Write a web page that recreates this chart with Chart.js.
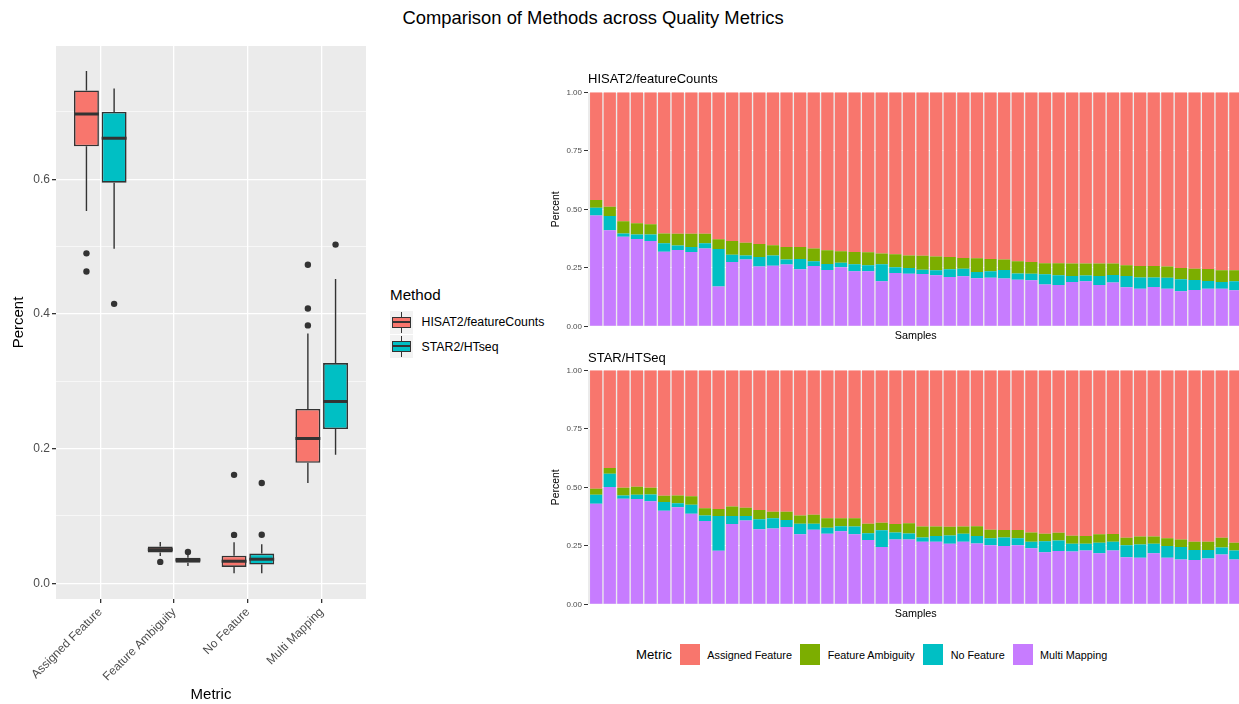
<!DOCTYPE html>
<html>
<head>
<meta charset="utf-8">
<script src="https://cdn.jsdelivr.net/npm/chart.js@4.4.1/dist/chart.umd.min.js"></script>
<style>
  body { margin: 0; width: 1239px; height: 704px; overflow: hidden; background: #fff; position: relative;
         font-family: "Liberation Sans", Arial, Helvetica, sans-serif; }
  canvas, .t { position: absolute; }
  .t { white-space: nowrap; color: #000; }
  .key { position: absolute; width: 23px; height: 23px; background: #F2F2F2; }
  .key .wh { position: absolute; left: 11px; top: 1px; width: 1px; height: 21px; background: #333; }
  .key .bx { position: absolute; left: 2px; top: 6px; width: 17px; height: 9px; border: 1px solid #333; }
  .key .md { position: absolute; left: 2px; top: 10px; width: 19px; height: 2px; background: #333; }
  .sw { position: absolute; width: 20px; height: 21px; top: 644px; }
</style>
</head>
<body>
<div class="t" style="left:0;width:1186px;text-align:center;top:7px;font-size:18.4px;line-height:22px">Comparison of Methods across Quality Metrics</div>

<canvas id="box" width="380" height="704" style="left:0;top:0"></canvas>

<div class="t" style="left:390px;top:285px;font-size:15.2px;line-height:20px">Method</div>
<div class="key" style="left:390px;top:310.5px"><div class="wh"></div><div class="bx" style="background:#F8766D"></div><div class="md"></div></div>
<div class="t" style="left:421.5px;top:314px;font-size:12.3px;line-height:16px">HISAT2/featureCounts</div>
<div class="key" style="left:390px;top:335px"><div class="wh"></div><div class="bx" style="background:#00BFC4"></div><div class="md"></div></div>
<div class="t" style="left:421.5px;top:339px;font-size:12.3px;line-height:16px">STAR2/HTseq</div>

<canvas id="hisat" width="705" height="283" style="left:540px;top:60px"></canvas>
<canvas id="star" width="705" height="283" style="left:540px;top:338.4px"></canvas>
<div class="t" style="left:588px;top:71px;font-size:13px;line-height:16px">HISAT2/featureCounts</div>
<div class="t" style="left:588px;top:350px;font-size:13px;line-height:16px">STAR/HTSeq</div>

<div class="t" style="left:636px;top:646px;font-size:13.2px;line-height:18px">Metric</div>
<div class="sw" style="left:680px;background:#F8766D"></div>
<div class="t" style="left:707.3px;top:648px;font-size:10.8px;line-height:14px">Assigned Feature</div>
<div class="sw" style="left:800px;background:#7CAE00"></div>
<div class="t" style="left:827.7px;top:648px;font-size:10.8px;line-height:14px">Feature Ambiguity</div>
<div class="sw" style="left:923.3px;background:#00BFC4"></div>
<div class="t" style="left:950.7px;top:648px;font-size:10.8px;line-height:14px">No Feature</div>
<div class="sw" style="left:1012.7px;background:#C77CFF"></div>
<div class="t" style="left:1040px;top:648px;font-size:10.8px;line-height:14px">Multi Mapping</div>

<script>
// ---- boxplot data ----
const metrics = ['Assigned Feature', 'Feature Ambiguity', 'No Feature', 'Multi Mapping'];
const metricPos = [1, 2, 3, 4];

const hisatLow  = [0.553, 0.0406, 0.0149, 0.149];
const hisatQ1   = [0.649, 0.0455, 0.0242, 0.179];
const hisatMed  = [0.697, 0.0499, 0.0327, 0.215];
const hisatQ3   = [0.732, 0.0544, 0.0410, 0.259];
const hisatHigh = [0.761, 0.0614, 0.0609, 0.371];
const hisatOut  = [[0.490, 0.463], [0.0317], [0.161, 0.0718], [0.473, 0.408, 0.383]];

const starLow  = [0.497, 0.0257, 0.0148, 0.191];
const starQ1   = [0.595, 0.0306, 0.0277, 0.229];
const starMed  = [0.661, 0.0346, 0.0357, 0.270];
const starQ3   = [0.700, 0.0380, 0.0440, 0.327];
const starHigh = [0.735, 0.0425, 0.0580, 0.452];
const starOut  = [[0.415], [0.0465], [0.149, 0.072], [0.503]];

// ---- per-sample fractions (stack: Multi Mapping, No Feature, Feature Ambiguity, Assigned Feature) ----
const samples = [1,2,3,4,5,6,7,8,9,10,11,12,13,14,15,16,17,18,19,20,21,22,23,24,
                 25,26,27,28,29,30,31,32,33,34,35,36,37,38,39,40,41,42,43,44,45,46,47,48];

const hisatMulti = [.474,.410,.383,.373,.365,.319,.326,.318,.332,.170,.275,.286,.256,.259,.264,.244,
                    .258,.241,.252,.235,.235,.192,.228,.225,.224,.218,.211,.214,.205,.207,.204,.199,
                    .197,.179,.177,.189,.192,.177,.187,.167,.161,.168,.160,.150,.155,.160,.160,.154];
const hisatNoFeat = [.033,.061,.014,.019,.027,.036,.019,.021,.023,.160,.031,.017,.040,.044,.022,.044,
                     .020,.025,.020,.030,.026,.073,.024,.024,.018,.021,.033,.032,.027,.028,.037,.027,
                     .028,.043,.041,.026,.025,.038,.032,.048,.048,.041,.047,.051,.043,.034,.029,.038];
const hisatAmbig = [.033,.040,.052,.048,.044,.042,.050,.056,.040,.042,.059,.054,.056,.043,.053,.051,
                    .055,.059,.049,.053,.055,.046,.056,.054,.060,.059,.052,.046,.059,.053,.044,.052,
                    .050,.047,.051,.053,.051,.053,.049,.046,.049,.049,.049,.048,.048,.051,.050,.047];
const hisatAssigned = [.460,.489,.551,.560,.564,.603,.605,.605,.605,.628,.635,.643,.648,.654,.661,.661,
                       .667,.675,.679,.682,.684,.689,.692,.697,.698,.702,.704,.708,.709,.712,.715,.722,
                       .725,.731,.731,.732,.732,.732,.732,.739,.742,.742,.744,.751,.754,.755,.761,.761];

const starMulti = [.430,.501,.451,.450,.440,.400,.415,.387,.356,.229,.343,.358,.321,.324,.330,.299,
                   .319,.302,.312,.299,.275,.245,.277,.277,.267,.267,.259,.267,.260,.252,.249,.252,
                   .239,.222,.228,.226,.230,.218,.230,.201,.199,.218,.199,.191,.189,.196,.213,.191];
const starNoFeat = [.038,.057,.014,.018,.029,.037,.017,.038,.024,.148,.034,.019,.042,.044,.030,.045,
                    .025,.025,.022,.034,.029,.071,.030,.026,.019,.025,.035,.035,.032,.030,.037,.030,
                    .028,.047,.045,.033,.029,.045,.037,.051,.057,.041,.050,.054,.043,.036,.030,.039];
const starAmbig = [.026,.025,.033,.034,.029,.027,.033,.037,.030,.030,.041,.036,.040,.027,.035,.036,
                   .039,.041,.034,.035,.040,.033,.036,.043,.047,.041,.037,.031,.042,.037,.031,.035,
                   .040,.033,.033,.034,.033,.036,.033,.032,.034,.031,.033,.032,.035,.035,.041,.033];
const starAssigned = [.506,.417,.502,.498,.502,.536,.535,.538,.590,.593,.582,.587,.597,.605,.605,.620,
                      .617,.632,.632,.632,.656,.651,.657,.654,.667,.667,.669,.667,.666,.681,.683,.683,
                      .693,.698,.694,.707,.708,.701,.700,.716,.710,.710,.718,.723,.733,.733,.716,.737];

const percentTicks = [0, 0.25, 0.5, 0.75, 1];
const boxTicks = [0, 0.1, 0.2, 0.3, 0.4, 0.5, 0.6, 0.7];

Chart.defaults.font.family = '"Liberation Sans", Arial, Helvetica, sans-serif';

const panelBg = {
  id: 'panelBg',
  beforeDraw(chart) {
    const a = chart.chartArea, ctx = chart.ctx;
    ctx.save();
    ctx.fillStyle = '#EBEBEB';
    ctx.fillRect(a.left, a.top, a.right - a.left, a.bottom - a.top);
    ctx.restore();
  }
};

const boxStats = [
  { low: hisatLow, med: hisatMed, high: hisatHigh, q1: hisatQ1, q3: hisatQ3, out: hisatOut },
  { low: starLow, med: starMed, high: starHigh, q1: starQ1, q3: starQ3, out: starOut }
];

const boxParts = {
  id: 'boxParts',
  beforeDatasetsDraw(chart) {
    const ctx = chart.ctx, y = chart.scales.y;
    ctx.save();
    ctx.strokeStyle = '#333333';
    ctx.lineWidth = 1.4;
    boxStats.forEach((s, d) => {
      chart.getDatasetMeta(d).data.forEach((el, i) => {
        ctx.beginPath();
        ctx.moveTo(el.x, y.getPixelForValue(s.q3[i]));
        ctx.lineTo(el.x, y.getPixelForValue(s.high[i]));
        ctx.moveTo(el.x, y.getPixelForValue(s.q1[i]));
        ctx.lineTo(el.x, y.getPixelForValue(s.low[i]));
        ctx.stroke();
      });
    });
    ctx.restore();
  },
  afterDatasetsDraw(chart) {
    const ctx = chart.ctx, y = chart.scales.y;
    ctx.save();
    boxStats.forEach((s, d) => {
      chart.getDatasetMeta(d).data.forEach((el, i) => {
        const ym = y.getPixelForValue(s.med[i]);
        ctx.strokeStyle = '#333333';
        ctx.lineWidth = 3;
        ctx.beginPath();
        ctx.moveTo(el.x - el.width / 2, ym);
        ctx.lineTo(el.x + el.width / 2, ym);
        ctx.stroke();
        ctx.fillStyle = '#333333';
        s.out[i].forEach(v => {
          ctx.beginPath();
          ctx.arc(el.x, y.getPixelForValue(v), 3.2, 0, Math.PI * 2);
          ctx.fill();
        });
      });
    });
    ctx.restore();
  }
};

new Chart(document.getElementById('box'), {
  type: 'bar',
  data: {
    datasets: [
      {
        label: 'HISAT2/featureCounts',
        data: metricPos.map((x, i) => ({ x: x, y: [hisatQ1[i], hisatQ3[i]] })),
        backgroundColor: '#F8766D', borderColor: '#333333', borderWidth: 1.6, borderSkipped: false,
        categoryPercentage: 0.75, barPercentage: 0.9
      },
      {
        label: 'STAR2/HTseq',
        data: metricPos.map((x, i) => ({ x: x, y: [starQ1[i], starQ3[i]] })),
        backgroundColor: '#00BFC4', borderColor: '#333333', borderWidth: 1.6, borderSkipped: false,
        categoryPercentage: 0.75, barPercentage: 0.9
      }
    ]
  },
  options: {
    responsive: false,
    animation: false,
    events: [],
    layout: { padding: { left: 0, right: 14, top: 46, bottom: 0 } },
    plugins: { legend: { display: false }, tooltip: { enabled: false } },
    scales: {
      x: {
        type: 'linear', min: 0.4, max: 4.6, offset: false,
        afterBuildTicks: s => { s.ticks = metricPos.map(v => ({ value: v })); },
        afterFit: s => { s.height = 105; },
        ticks: {
          autoSkip: false, minRotation: 45, maxRotation: 45, padding: 2,
          color: '#4D4D4D', font: { size: 12 },
          callback: v => metrics[metricPos.indexOf(v)]
        },
        grid: { offset: false, color: '#FFFFFF', lineWidth: 1.3, tickColor: '#333333', tickLength: 4 },
        border: { display: false },
        title: { display: true, text: 'Metric', color: '#000', font: { size: 15 }, padding: { top: 0, bottom: 0 } }
      },
      y: {
        min: -0.0234, max: 0.798,
        afterBuildTicks: s => { s.ticks = boxTicks.map(v => ({ value: v })); },
        afterFit: s => { s.width = 56; },
        ticks: {
          padding: 2, color: '#4D4D4D', font: { size: 12 },
          callback: (v, i) => (i % 2 === 0 ? v.toFixed(1) : '')
        },
        grid: {
          color: '#FFFFFF',
          lineWidth: c => (c.index % 2 === 0 ? 1.3 : 0.6),
          tickColor: c => (c.index % 2 === 0 ? '#333333' : 'rgba(0,0,0,0)'),
          tickLength: 4
        },
        border: { display: false },
        title: { display: true, text: 'Percent', color: '#000', font: { size: 15 }, padding: { top: 10, bottom: 0 } }
      }
    }
  },
  plugins: [panelBg, boxParts]
});

function stackedPanel(id, multi, noFeat, ambig, assigned) {
  const series = [
    { label: 'Multi Mapping', data: multi, color: '#C77CFF' },
    { label: 'No Feature', data: noFeat, color: '#00BFC4' },
    { label: 'Feature Ambiguity', data: ambig, color: '#7CAE00' },
    { label: 'Assigned Feature', data: assigned, color: '#F8766D' }
  ];
  return new Chart(document.getElementById(id), {
    type: 'bar',
    data: {
      labels: samples,
      datasets: series.map(s => ({
        label: s.label, data: s.data, backgroundColor: s.color, borderWidth: 0,
        categoryPercentage: 1, barPercentage: 0.9
      }))
    },
    options: {
      responsive: false,
      animation: false,
      events: [],
      layout: { padding: { left: 0, right: 1.5, top: 32.3, bottom: 0 } },
      plugins: { legend: { display: false }, tooltip: { enabled: false } },
      scales: {
        x: {
          type: 'linear', min: 0.4, max: 48.6, offset: false, stacked: true,
          afterBuildTicks: s => { s.ticks = samples.map(v => ({ value: v })); },
          afterFit: s => { s.height = 16.7; },
          ticks: { display: false },
          grid: { display: false, offset: false },
          border: { display: false },
          title: { display: true, text: 'Samples', color: '#000', font: { size: 10.8 }, padding: { top: 0, bottom: 0 } }
        },
        y: {
          min: 0, max: 1, stacked: true,
          afterBuildTicks: s => { s.ticks = percentTicks.map(v => ({ value: v })); },
          afterFit: s => { s.width = 48; },
          ticks: { padding: 2, color: '#4D4D4D', font: { size: 8 }, callback: v => v.toFixed(2) },
          grid: { color: '#FFFFFF', lineWidth: 1, tickColor: '#333333', tickLength: 4 },
          border: { display: false },
          title: { display: true, text: 'Percent', color: '#000', font: { size: 10.4 }, padding: { top: 10, bottom: 0 } }
        }
      }
    },
    plugins: [panelBg]
  });
}

stackedPanel('hisat', hisatMulti, hisatNoFeat, hisatAmbig, hisatAssigned);
stackedPanel('star', starMulti, starNoFeat, starAmbig, starAssigned);
</script>
</body>
</html>
